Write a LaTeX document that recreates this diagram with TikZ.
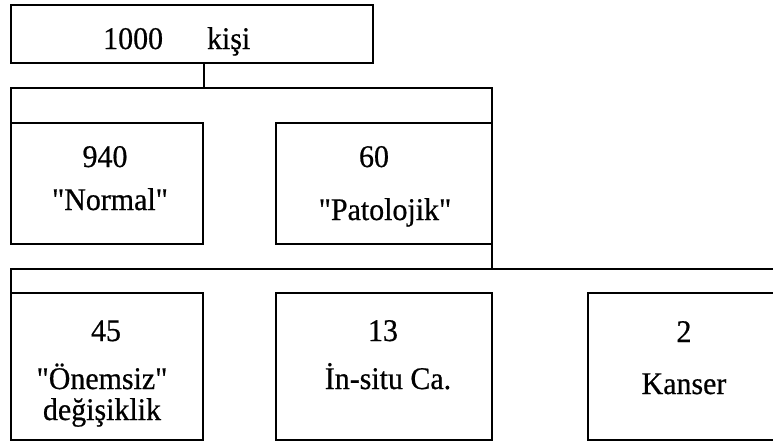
\documentclass[tikz,border=0pt]{standalone}
\usepackage{fontspec}
\newfontfamily\reffont{Liberation Serif}[FakeStretch=0.95, FakeBold=0.6]
\begin{document}
\begin{tikzpicture}[x=1pt,y=-1pt,
  box/.style={draw, line width=1.7pt, inner sep=0pt, outer sep=0pt, anchor=north west},
  wire/.style={line width=1.7pt},
  lbl/.style={anchor=base, inner sep=0pt, font=\reffont\fontsize{31.5}{36}\selectfont}]
\useasboundingbox (0,0) rectangle (773,444);
% boxes
\node[box, minimum width=362pt, minimum height=58pt] (top) at (11,5) {};
\node[box, minimum width=192pt, minimum height=121pt] (normal) at (11,123) {};
\node[box, minimum width=216pt, minimum height=121pt] (pat) at (276,123) {};
\node[box, minimum width=192pt, minimum height=147pt] (onem) at (11,293) {};
\node[box, minimum width=216pt, minimum height=147pt] (insitu) at (276,293) {};
\node[box, minimum width=190pt, minimum height=147pt] (kanser) at (588,293) {};
% bracket levels
\coordinate (b1) at (204,88);
\coordinate (b2) at (492,269);
% connectors
\draw[wire] ([xshift=12pt]top.south) -- ([xshift=12pt]top.south |- b1);
\draw[wire] (normal.north west) -- (normal.north west |- b1) -- (pat.north east |- b1) -- (pat.north east);
\draw[wire] (pat.south east) -- (pat.south east |- b2);
\draw[wire] (onem.north west) -- (onem.north west |- b2) -- (kanser.north east |- b2) -- (kanser.north east);
% texts
\node[lbl, anchor=base west] (t1000) at (103,49) {1000\hspace{44pt}kişi};
\node[lbl] (t940) at (105,167) {940};
\node[lbl] (tnormal) at (110,210) {"Normal"};
\node[lbl] (t60) at (374,167) {60};
\node[lbl] (tpat) at (385,220) {"Patolojik"};
\node[lbl] (t45) at (106,341) {45};
\node[lbl] (tonem) at (102,389) {"Önemsiz"};
\node[lbl] (tdeg) at (102,420) {değişiklik};
\node[lbl] (t13) at (383,341) {13};
\node[lbl] (tins) at (388,389) {İn-situ Ca.};
\node[lbl] (t2) at (684,342) {2};
\node[lbl] (tkan) at (684,394) {Kanser};
\end{tikzpicture}
\end{document}
